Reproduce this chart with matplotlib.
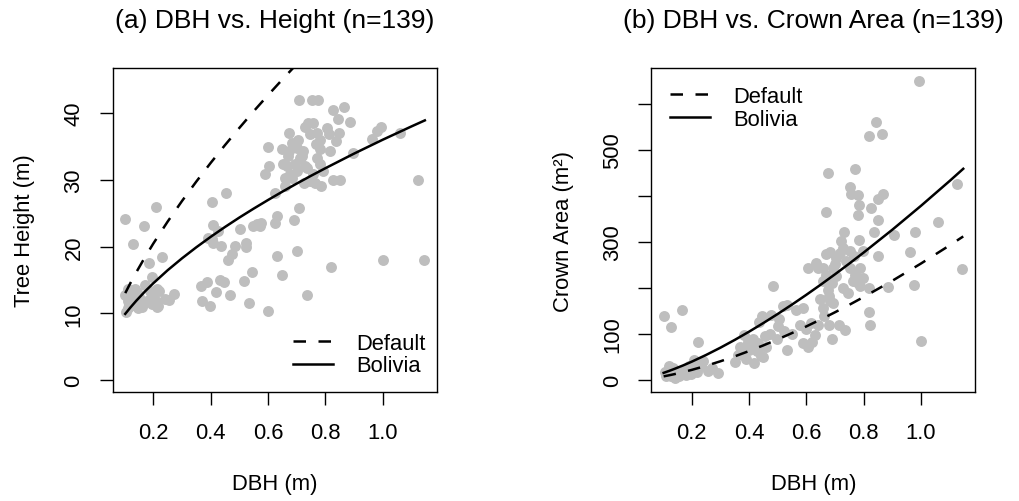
import matplotlib
matplotlib.use("Agg")
import matplotlib.pyplot as plt
from matplotlib.lines import Line2D

plt.rcParams["font.family"] = ["Liberation Sans", "DejaVu Sans"]

# ---- field measurements: DBH (m) vs tree height (m) ----
dbh_h = [
    0.709, 0.755, 0.776, 0.826, 0.865, 0.845, 0.886, 0.729, 0.756, 0.805,
    0.673, 0.772, 0.847, 0.837, 0.685, 0.781, 0.648, 0.700, 0.781, 0.816,
    0.671, 0.717, 0.770, 0.781, 0.665, 0.694, 0.729, 0.677, 0.746, 0.785,
    0.828, 0.851, 1.124, 0.897, 0.962, 0.979, 0.993, 1.060, 0.659, 0.624,
    0.709, 0.632, 0.624, 0.691, 0.700, 0.632, 0.648, 0.819, 1.000, 1.145,
    0.735, 0.601,
    0.102, 0.210, 0.166, 0.129, 0.230, 0.184, 0.195, 0.172, 0.102, 0.123,
    0.143, 0.112, 0.131, 0.152, 0.170, 0.112, 0.148, 0.199, 0.220, 0.208,
    0.216, 0.255, 0.271, 0.106, 0.187,
    0.367, 0.387, 0.371, 0.399, 0.420, 0.434, 0.445, 0.468, 0.515, 0.545,
    0.533,
    0.405, 0.452, 0.408, 0.426, 0.391, 0.408, 0.437, 0.501, 0.484, 0.475,
    0.460, 0.524, 0.524, 0.548, 0.577, 0.571,
    0.588, 0.602, 0.601,
    0.116, 0.159, 0.177, 0.214, 0.212, 0.241, 0.112, 0.136, 0.149, 0.197,
    0.674, 0.653, 0.735, 0.758, 0.724, 0.792, 0.769, 0.712, 0.682, 0.746,
    0.723, 0.811, 0.764, 0.700,
    0.404, 0.560, 0.740, 0.705, 0.660, 0.155, 0.125, 0.190,
]
height = [
    41.95, 41.95, 41.95, 40.45, 40.95, 39.05, 38.70, 37.95, 38.55, 37.70,
    37.05, 37.05, 36.95, 35.80, 35.55, 35.90, 34.55, 34.80, 34.55, 34.30,
    33.55, 33.55, 33.30, 32.30, 32.05, 32.30, 32.05, 30.80, 29.80, 29.05,
    29.95, 29.95, 29.95, 34.05, 36.05, 37.30, 37.95, 37.05, 29.05, 28.05,
    25.80, 24.55, 23.55, 23.95, 19.40, 18.65, 15.70, 17.00, 17.95, 17.95,
    12.80, 10.40,
    24.05, 25.90, 23.00, 20.40, 18.40, 17.55, 15.40, 14.30, 12.80, 12.65,
    13.15, 11.90, 11.55, 11.40, 11.75, 10.75, 10.75, 12.65, 13.40, 11.90,
    11.15, 12.05, 12.90, 10.15, 13.40,
    14.15, 14.65, 11.90, 11.05, 13.25, 15.05, 14.65, 12.75, 14.90, 16.15,
    11.55,
    26.65, 28.00, 23.25, 22.40, 21.25, 20.55, 20.15, 22.55, 20.05, 18.90,
    18.00, 20.55, 20.00, 23.05, 23.55, 23.00,
    30.90, 32.05, 34.90,
    11.40, 10.90, 11.90, 13.65, 10.90, 12.15, 13.65, 13.65, 12.40, 11.40,
    34.30, 32.30, 31.80, 30.80, 29.55, 31.30, 35.30, 33.30, 30.30, 36.80,
    34.30, 36.80, 29.55, 31.30,
    21.20, 23.30, 38.50, 36.00, 30.20, 12.00, 11.20, 12.20,
]

# ---- field measurements: DBH (m) vs crown area (m^2) ----
dbh_c = [
    0.992, 0.841, 0.817, 0.863, 0.675, 0.771, 0.753, 0.779, 0.756, 0.785,
    0.849, 0.866, 0.826, 0.779, 0.670, 0.849, 0.731, 0.835, 0.783, 0.904,
    0.978, 1.058, 1.124, 1.143, 0.962, 0.849, 0.799, 0.765, 0.727, 0.681,
    0.704, 0.632, 0.606, 0.658, 0.693, 0.768, 0.799, 0.779, 0.658, 0.762,
    0.886, 0.976, 0.646, 0.678, 0.693, 0.676, 0.588, 0.565, 0.817, 0.823,
    0.678, 0.713, 0.733, 0.577, 0.617, 0.629, 0.689, 0.588, 0.606, 1.000,
    0.103, 0.166, 0.128, 0.482, 0.221, 0.520, 0.476, 0.433, 0.383, 0.455,
    0.497, 0.369, 0.406, 0.427, 0.389, 0.418, 0.441, 0.532, 0.105, 0.122,
    0.145, 0.174, 0.203, 0.209, 0.232, 0.256, 0.128, 0.157, 0.198, 0.395,
    0.505, 0.522,
    0.670, 0.716, 0.739, 0.670, 0.704, 0.727, 0.681, 0.658, 0.751, 0.786,
    0.640, 0.820, 0.788, 0.699, 0.722,
    0.110, 0.115, 0.135, 0.140, 0.160, 0.180, 0.190, 0.220, 0.240, 0.270,
    0.290,
    0.380, 0.400, 0.430, 0.460, 0.500, 0.550, 0.620, 0.660, 0.350, 0.450,
    0.600,
    0.531, 0.445, 0.363, 0.412, 0.472, 0.752, 0.690, 0.745, 0.640, 0.125,
]
crown = [
    649, 560, 530, 535, 450, 459, 419, 401, 403, 381,
    392, 403, 374, 358, 365, 347, 322, 322, 304, 314,
    321, 343, 426, 241, 279, 269, 280, 269, 287, 278,
    265, 254, 243, 243, 243, 229, 222, 211, 214, 214,
    201, 207, 175, 182, 167, 196, 156, 153, 147, 119,
    120, 119, 108, 120, 124, 98, 88, 80, 71, 84,
    138, 152, 116, 205, 82, 161, 141, 127, 98, 96,
    89, 71, 75, 64, 46, 37, 53, 66, 17, 31,
    13, 20, 27, 44, 31, 20, 9, 9, 13, 82,
    133, 107,
    273, 276, 258, 229, 226, 200, 171, 156, 243, 243,
    243, 200, 204, 251, 301,
    8, 20, 25, 5, 15, 10, 30, 18, 42, 25,
    15,
    60, 66, 80, 72, 118, 100, 82, 140, 40, 50,
    110,
    162, 139, 55, 90, 100, 280, 210, 190, 120, 18,
]

# ---- fitted allometric curves ----
fit_dbh = [0.102, 0.12, 0.14, 0.17, 0.2, 0.25, 0.3, 0.35, 0.4, 0.45, 0.5,
           0.55, 0.6, 0.65, 0.7, 0.75, 0.8, 0.9, 1.0, 1.1, 1.147]
height_default = [13.02, 14.52, 16.10, 18.34, 20.45, 23.74, 26.82, 29.74,
                  32.53, 35.20, 37.77, 40.27, 42.68, 45.03, 47.32, 49.56,
                  51.75, 56.00, 60.10, 64.07, 65.89]
height_bolivia = [9.91, 10.86, 11.85, 13.23, 14.50, 16.45, 18.23, 19.89,
                  21.45, 22.93, 24.34, 25.68, 26.97, 28.22, 29.43, 30.60,
                  31.73, 33.92, 36.00, 37.99, 38.90]
crown_default = [7.88, 10.08, 12.75, 17.12, 21.92, 30.77, 40.60, 51.32,
                 62.87, 75.20, 88.25, 102.03, 116.44, 131.51, 147.17, 163.45,
                 180.30, 215.63, 253.10, 292.56, 311.80]
crown_bolivia = [15.49, 19.45, 24.14, 31.67, 39.77, 54.35, 70.14, 87.05,
                 104.94, 123.77, 143.43, 163.93, 185.14, 207.08, 229.71,
                 253.03, 276.98, 326.56, 378.50, 432.50, 458.70]

x_ticks = [0.2, 0.4, 0.6, 0.8, 1.0]
x_tick_labels = ["0.2", "0.4", "0.6", "0.8", "1.0"]
h_ticks = [0, 10, 20, 30, 40]
h_tick_labels = ["0", "10", "20", "30", "40"]
c_ticks = [0, 100, 200, 300, 400, 500, 600]
c_tick_labels = ["0", "100", "", "300", "", "500", ""]

POINT = "#BEBEBE"
LW = 1.8
DASH = (0, (5, 5))
FS = 15.8

fig = plt.figure(figsize=(10.19, 5.02), dpi=100)
W, H = 1019.0, 502.0
ax1 = fig.add_axes([113 / W, 109 / H, 324 / W, 324 / H])
ax2 = fig.add_axes([651.4 / W, 109 / H, 324 / W, 324 / H])


def style(ax):
    for s in ax.spines.values():
        s.set_linewidth(1.0)
        s.set_color("black")
    ax.tick_params(axis="both", direction="out", length=9.5, width=1.0,
                   labelsize=FS, top=False, right=False)
    ax.tick_params(axis="x", pad=12)
    ax.tick_params(axis="y", pad=11, labelrotation=90)
    for lab in ax.get_yticklabels():
        lab.set_verticalalignment("center")


# (a) height
ax1.scatter(dbh_h, height, s=62, c=POINT, linewidths=0, zorder=1)
ax1.plot(fit_dbh, height_default, color="black", lw=LW, linestyle=DASH,
         zorder=2)
ax1.plot(fit_dbh, height_bolivia, color="black", lw=LW, zorder=2)
ax1.set_xlim(0.0593, 1.1894)
ax1.set_ylim(-1.8, 46.75)
ax1.set_xticks(x_ticks, x_tick_labels)
ax1.set_yticks(h_ticks, h_tick_labels)
style(ax1)
ax1.set_title(f"(a) DBH vs. Height (n={len(height)})", fontsize=19, pad=29.5)
ax1.set_xlabel("DBH (m)", fontsize=FS)
ax1.set_ylabel("Tree Height (m)", fontsize=FS)
ax1.xaxis.set_label_coords(0.5, -0.25)
ax1.yaxis.set_label_coords(-0.24, 0.5)

# (b) crown area
ax2.scatter(dbh_c, crown, s=62, c=POINT, linewidths=0, zorder=1)
ax2.plot(fit_dbh, crown_default, color="black", lw=LW, linestyle=DASH,
         zorder=2)
ax2.plot(fit_dbh, crown_bolivia, color="black", lw=LW, zorder=2)
ax2.set_xlim(0.0593, 1.1894)
ax2.set_ylim(-26.1, 677.6)
ax2.set_xticks(x_ticks, x_tick_labels)
ax2.set_yticks(c_ticks, c_tick_labels)
style(ax2)
ax2.set_title(f"(b) DBH vs. Crown Area (n={len(crown)})", fontsize=19,
              pad=29.5)
ax2.set_xlabel("DBH (m)", fontsize=FS)
ax2.set_ylabel("Crown Area (m²)", fontsize=FS)
ax2.xaxis.set_label_coords(0.5, -0.25)
ax2.yaxis.set_label_coords(-0.24, 0.5)

handles = [Line2D([], [], color="black", lw=LW, linestyle=DASH),
           Line2D([], [], color="black", lw=LW)]
labels = ["Default", "Bolivia"]
leg_kw = dict(frameon=False, fontsize=FS, handlelength=1.82,
              handletextpad=1.05, labelspacing=0.07, borderpad=0,
              borderaxespad=0)
ax1.legend(handles, labels, loc="lower left", bbox_to_anchor=(0.556, 0.048),
           **leg_kw)
ax2.legend(handles, labels, loc="upper left", bbox_to_anchor=(0.057, 0.944),
           **leg_kw)

fig.savefig("out.png", dpi=100, facecolor="white")
